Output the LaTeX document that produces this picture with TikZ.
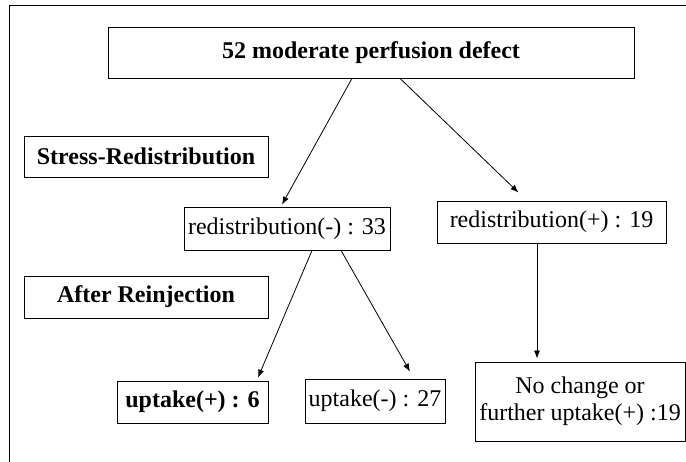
\documentclass[tikz,border=0pt]{standalone}
\usepackage{fontspec}
\setmainfont{Liberation Serif}
\usepackage{tikz}
\usetikzlibrary{arrows.meta}

\begin{document}
\begin{tikzpicture}[x=1pt,y=-1pt,line width=0.8pt]

	\tikzstyle stage box=[draw, inner sep=0pt, font=\fontsize{24}{27}\selectfont\bfseries];
	\tikzstyle count box=[draw, inner sep=0pt, font=\fontsize{24}{27}\selectfont];
	\tikzstyle flow lines=[-{Latex[length=8pt,width=6pt]}];

	\useasboundingbox (0,0) rectangle (686,462);

	% outer frame (only top and left edges survive)
	\draw (9,462) -- (9,5) -- (686,5);

	% first row
	\node[stage box, minimum width=526pt, minimum height=51pt] (defect) at (371,52.5) {52 moderate perfusion defect};

	% stress -- redistribution
	\node[stage box, minimum width=244pt, minimum height=41pt] (stress) at (146,156.5) {Stress-Redistribution};
	\node[count box, minimum width=206pt, minimum height=43pt] (redism) at (287,228.5) {redistribution(-) : 33};
	\node[count box, minimum width=229pt, minimum height=42pt] (redisp) at (551.5,222) {redistribution(+) : 19};

	% after reinjection
	\node[stage box, minimum width=244pt, minimum height=42pt] (reinj) at (146,297) {After Reinjection};
	\node[stage box, minimum width=151pt, minimum height=42pt] (uptp) at (192.5,402) {uptake(+) : 6};
	\node[count box, minimum width=140pt, minimum height=44pt] (uptm) at (375,401) {uptake(-) : 27};
	\node[count box, minimum width=210pt, minimum height=79pt, align=center] (nochange) at (580,401.5) {No change or\\further uptake(+) :19};

	\draw[flow lines] ([xshift=-19pt]defect.south) -- ([xshift=-5pt,yshift=2pt]redism.north);
	\draw[flow lines] ([xshift=29pt]defect.south) -- ([xshift=-33pt,yshift=8pt]redisp.north);
	\draw[flow lines] ([xshift=25pt]redism.south) -- ([xshift=65.5pt,yshift=3pt]uptp.north);
	\draw[flow lines] ([xshift=54pt]redism.south) -- ([xshift=35pt,yshift=7pt]uptm.north);
	\draw[flow lines] ([xshift=-14.5pt]redisp.south) -- ([xshift=-43pt,yshift=3pt]nochange.north);

\end{tikzpicture}
\end{document}
